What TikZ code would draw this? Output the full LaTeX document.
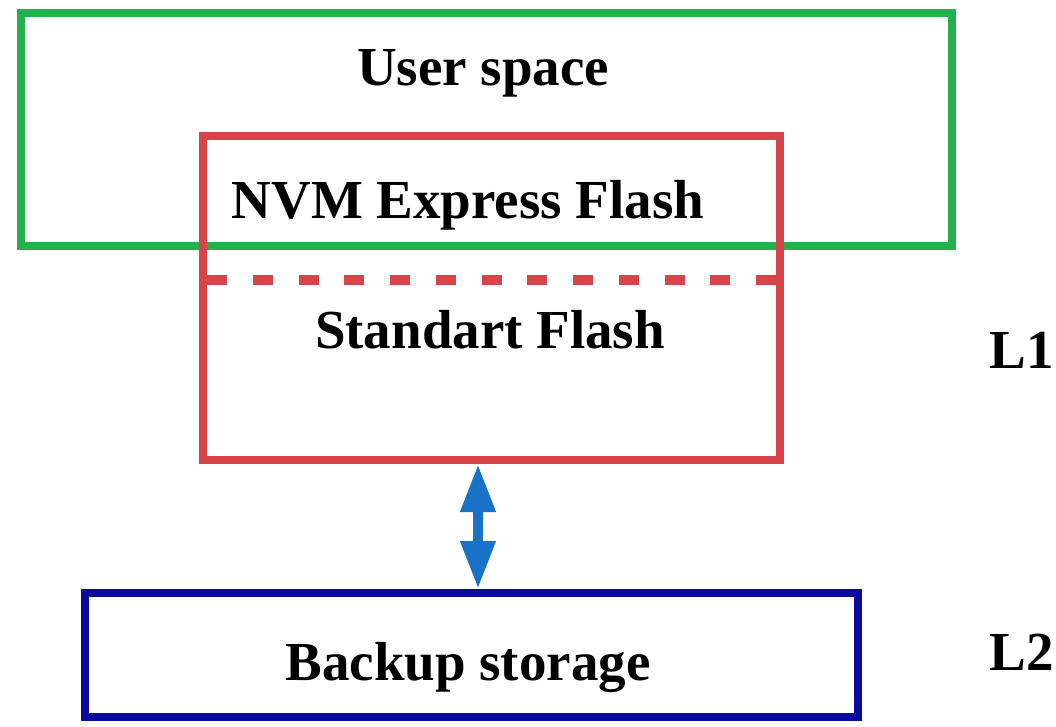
\documentclass[tikz,border=0pt]{standalone}
\usepackage{fontspec}
\setmainfont{Liberation Serif}
\usetikzlibrary{arrows.meta}
\definecolor{boxgreen}{RGB}{34,177,76}
\definecolor{boxred}{RGB}{217,67,74}
\definecolor{boxblue}{RGB}{10,10,158}
\definecolor{arrowblue}{RGB}{26,114,200}
\begin{document}
\begin{tikzpicture}[x=1pt,y=-1pt,
  frame/.style={draw, line width=8pt, rectangle, inner sep=0pt},
  lbl/.style={anchor=base, inner sep=0pt, font=\fontsize{55}{60}\selectfont\bfseries}]
\useasboundingbox (0,0) rectangle (1056,726);
\fill[white] (0,0) rectangle (1056,726);
\node[frame, draw=boxgreen, minimum width=931pt, minimum height=233pt] (user) at (486.5,129.5) {};
\node[frame, draw=boxred, minimum width=577pt, minimum height=324pt] (flash) at (491.5,298) {};
\node[frame, draw=boxblue, minimum width=773pt, minimum height=124pt] (backup) at (471.5,655) {};
\coordinate (dl) at (207,280);
\coordinate (dr) at (776,280);
\draw[boxred, line width=10pt, dash pattern=on 20pt off 25.75pt] (dl) -- (dr);
\node[lbl] (tuser) at (483,85) {User space};
\node[lbl] (tnvm) at (468,218) {NVM Express Flash};
\node[lbl] (tstd) at (490,348) {Standart Flash};
\node[lbl] (tbak) at (468,680) {Backup storage};
\node[lbl] (tl1) at (1022,368) {L1};
\node[lbl] (tl2) at (1022,670) {L2};
\draw[arrowblue, line width=10pt, {Triangle[width=33pt,length=48pt]}-{Triangle[width=33pt,length=48pt]}] (flash.south -| 478,0) -- (backup.north -| 478,0);
\end{tikzpicture}
\end{document}
